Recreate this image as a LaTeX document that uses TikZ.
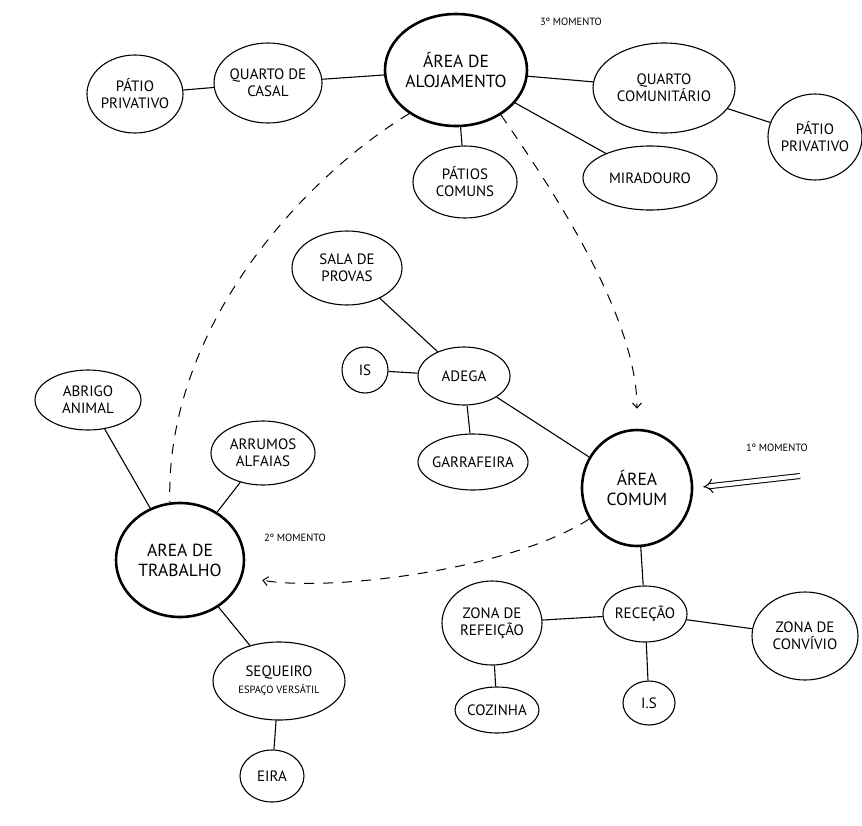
\documentclass[tikz,border=0pt]{standalone}
\usepackage{fontspec}
\setmainfont{PT Sans}
\usetikzlibrary{shapes.geometric,arrows.meta}
\begin{document}
\begin{tikzpicture}[x=1pt, y=-1pt, font=\fontsize{15}{17}\selectfont]
  \tikzset{spot/.style={draw, ellipse, line width=1.1pt, inner sep=-2pt, align=center},
    hub/.style={spot, line width=2.6pt, font=\fontsize{17.5}{20}\selectfont},
    link/.style={line width=1.1pt},
    route/.style={dashed, dash pattern=on 10pt off 9pt, line width=1pt, -{Straight Barb[length=5pt,width=9pt]}},
    momento/.style={font=\fontsize{10.5}{12}\selectfont}}
  \useasboundingbox[fill=white] (0,0) rectangle (862,825);
  \node[hub, minimum width=142pt, minimum height=112pt] (aloj) at (456,70) {ÁREA DE\\ALOJAMENTO};
  \node[spot, minimum width=96pt, minimum height=78pt] (patioA) at (135,94) {PÁTIO\\PRIVATIVO};
  \node[spot, minimum width=108pt, minimum height=80pt] (casal) at (268,83) {QUARTO DE\\CASAL};
  \node[spot, minimum width=104pt, minimum height=72pt] (patios) at (465,182) {PÁTIOS\\COMUNS};
  \node[spot, minimum width=142pt, minimum height=90pt] (comunit) at (664,88) {QUARTO\\COMUNITÁRIO};
  \node[spot, minimum width=94pt, minimum height=86pt] (patioB) at (815,137) {PÁTIO\\PRIVATIVO};
  \node[spot, minimum width=134pt, minimum height=64pt] (mirad) at (650,178) {MIRADOURO};
  \node[spot, minimum width=110pt, minimum height=74pt] (provas) at (347,268) {SALA DE\\PROVAS};
  \node[spot, minimum width=46pt, minimum height=46pt] (isA) at (365,370) {IS};
  \node[spot, minimum width=92pt, minimum height=58pt] (adega) at (464,376) {ADEGA};
  \node[spot, minimum width=110pt, minimum height=56pt] (garraf) at (473,462) {GARRAFEIRA};
  \node[hub, minimum width=110pt, minimum height=116pt] (comum) at (637,488) {ÁREA\\COMUM};
  \node[spot, minimum width=106pt, minimum height=60pt] (abrigo) at (88,400) {ABRIGO\\ANIMAL};
  \node[spot, minimum width=104pt, minimum height=64pt] (arrumos) at (263,453) {ARRUMOS\\ALFAIAS};
  \node[hub, minimum width=128pt, minimum height=114pt] (trab) at (180,560) {AREA DE\\TRABALHO};
  \node[spot, minimum width=132pt, minimum height=78pt] (sequeiro) at (279,681) {SEQUEIRO\\{\fontsize{10.5}{12}\selectfont ESPAÇO VERSÁTIL}};
  \node[spot, minimum width=64pt, minimum height=52pt] (eira) at (272,776) {EIRA};
  \node[spot, minimum width=84pt, minimum height=56pt] (rececao) at (645,614) {RECEÇÃO};
  \node[spot, minimum width=100pt, minimum height=84pt] (refeicao) at (492,623) {ZONA DE\\REFEIÇÃO};
  \node[spot, minimum width=106pt, minimum height=88pt] (convivio) at (805,636) {ZONA DE\\CONVÍVIO};
  \node[spot, minimum width=84pt, minimum height=46pt] (cozinha) at (497,710) {COZINHA};
  \node[spot, minimum width=52pt, minimum height=44pt] (isB) at (649,703) {I.S};
  \node[momento] (m3) at (571,22) {3º MOMENTO};
  \node[momento] (m2) at (295,538) {2º MOMENTO};
  \node[momento] (m1) at (777,448) {1º MOMENTO};
  \coordinate (entrada) at (800,476);
  \draw[link] (patioA) -- (casal);
  \draw[link] (casal) -- (aloj);
  \draw[link] (aloj) -- (patios);
  \draw[link] (aloj) -- (comunit);
  \draw[link] (comunit) -- (patioB);
  \draw[link] (aloj) -- (mirad);
  \draw[link] (provas) -- (adega);
  \draw[link] (isA) -- (adega);
  \draw[link] (adega) -- (garraf);
  \draw[link] (adega) -- (comum);
  \draw[link] (abrigo) -- (trab);
  \draw[link] (arrumos) -- (trab);
  \draw[link] (trab) -- (sequeiro);
  \draw[link] (sequeiro) -- (eira);
  \draw[link] (comum) -- (rececao);
  \draw[link] (rececao) -- (refeicao);
  \draw[link] (rececao) -- (convivio);
  \draw[link] (rececao) -- (isB);
  \draw[link] (refeicao) -- (cozinha);
  \draw[double, double distance=4pt, line width=1pt, -{Implies}, shorten >=10pt] (entrada) -- (comum.east);
  \draw[route, shorten >=20pt] (aloj.-45) .. controls (560,200) and (637,320) .. (comum.north);
  \draw[route, shorten >=20pt] (comum.213) .. controls (510,570) and (330,592) .. (trab.-15);
  \draw[route, -] (aloj.223) .. controls (300,180) and (165,330) .. (trab.100);
\end{tikzpicture}
\end{document}
